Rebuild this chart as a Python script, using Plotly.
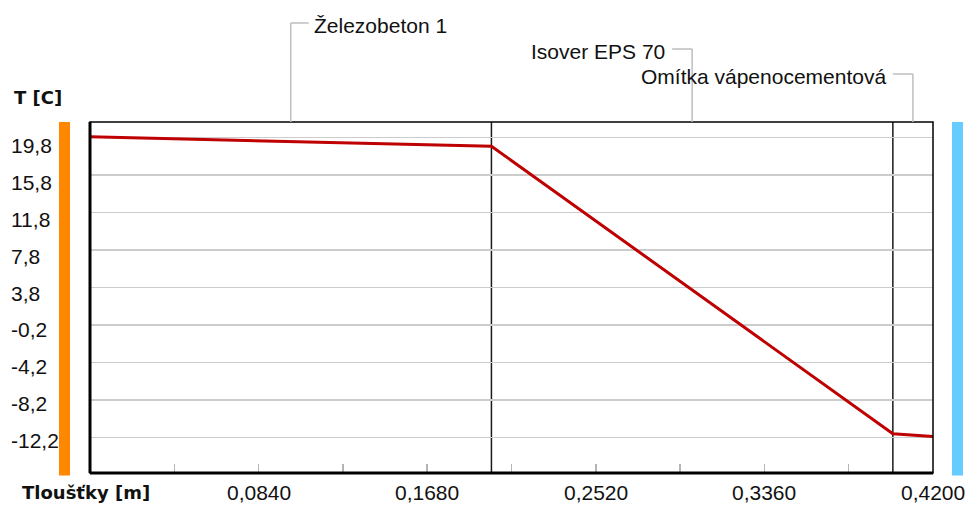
import plotly.graph_objects as go

# ---- data ----
layer_names = ["Železobeton 1", "Isover EPS 70", "Omítka vápenocementová"]
layer_bounds = [0.0, 0.2, 0.4, 0.42]          # thickness positions [m]
temps = [19.9, 18.9, -11.8, -12.1]            # temperature at the interfaces [C]
y_ticks = [19.8, 15.8, 11.8, 7.8, 3.8, -0.2, -4.2, -8.2, -12.2]
y_tick_text = ["19,8", "15,8", "11,8", "7,8", "3,8", "-0,2", "-4,2", "-8,2", "-12,2"]
x_ticks = [0.042, 0.084, 0.126, 0.168, 0.210, 0.252, 0.294, 0.336, 0.378]
x_label_vals = [0.084, 0.168, 0.252, 0.336, 0.42]
x_label_text = ["0,0840", "0,1680", "0,2520", "0,3360", "0,4200"]

# ---- layout constants ----
W, H = 968, 508
ML, MR, MT, MB = 90, 35, 122, 35
PW = W - ML - MR
PH = H - MT - MB
TXT = dict(family="Liberation Sans, Arial, sans-serif", size=21, color="#111111")
BOLD = dict(family="DejaVu Sans, sans-serif", size=18, color="#111111")

fig = go.Figure()
fig.add_trace(go.Scatter(x=layer_bounds, y=temps, mode="lines",
                         line=dict(color="#BE0000", width=3), hoverinfo="skip",
                         showlegend=False))

fig.update_layout(
    width=W, height=H, margin=dict(l=ML, r=MR, t=MT, b=MB),
    paper_bgcolor="white", plot_bgcolor="white", showlegend=False,
    xaxis=dict(range=[0, 0.42], showgrid=False, zeroline=False, showline=False,
               tickvals=x_ticks, ticks="inside", ticklen=9, tickwidth=1.5,
               tickcolor="#B4B4B4", showticklabels=False, fixedrange=True),
    yaxis=dict(range=[-15.99, 21.48], tickvals=y_ticks, showgrid=True,
               gridcolor="#CCCCCC", gridwidth=1.5, zeroline=False, showline=False,
               showticklabels=False, ticks="", fixedrange=True),
)

shapes = []
# layer boundaries
for b in layer_bounds[1:-1]:
    shapes.append(dict(type="line", xref="x", yref="paper", x0=b, x1=b, y0=0, y1=1,
                       line=dict(color="#1A1A1A", width=1.5), layer="below"))
# frame
shapes.append(dict(type="rect", xref="paper", yref="paper", x0=0, x1=1, y0=0, y1=1,
                   line=dict(color="black", width=1.5), layer="above"))
shapes.append(dict(type="line", xref="paper", yref="paper", x0=0, x1=0, y0=0, y1=1,
                   line=dict(color="black", width=3), layer="above"))
shapes.append(dict(type="line", xref="paper", yref="paper", x0=0, x1=1, y0=0, y1=0,
                   line=dict(color="black", width=3), layer="above"))
# side colour bars (interior / exterior)
shapes.append(dict(type="rect", xref="paper", yref="paper", xsizemode="pixel", xanchor=0,
                   x0=-31, x1=-20, y0=-2.5 / PH, y1=1, line=dict(width=0),
                   fillcolor="#FF8800"))
shapes.append(dict(type="rect", xref="paper", yref="paper", xsizemode="pixel", xanchor=1,
                   x0=19, x1=30, y0=-2.5 / PH, y1=1, line=dict(width=0),
                   fillcolor="#66CCFF"))

annotations = []
# layer name leaders
label_style = [  # (rise px, horizontal dx px, side)
    (99, 18, "right"),
    (73, -20, "left"),
    (48, -20, "left"),
]
for i, name in enumerate(layer_names):
    cx = (layer_bounds[i] + layer_bounds[i + 1]) / 2
    rise, dx, side = label_style[i]
    lc = dict(color="#BEBEBE", width=1.5)
    shapes.append(dict(type="line", xref="x", x0=cx, x1=cx, yref="paper",
                       ysizemode="pixel", yanchor=1, y0=0, y1=rise, line=lc))
    shapes.append(dict(type="line", xref="x", xsizemode="pixel", xanchor=cx, x0=0, x1=dx,
                       yref="paper", ysizemode="pixel", yanchor=1, y0=rise, y1=rise, line=lc))
    annotations.append(dict(x=cx, xref="x", y=1, yref="paper", text=name, showarrow=False,
                            xanchor="left" if side == "right" else "right",
                            xshift=dx + (3 if dx > 0 else -5), yanchor="middle",
                            yshift=rise - 2, font=TXT))

# y tick labels (left aligned)
n = len(y_ticks)
for i, (v, t) in enumerate(zip(y_ticks, y_tick_text)):
    annotations.append(dict(x=(9 - ML) / PW, xref="paper", y=v, yref="y", text=t,
                            showarrow=False, xanchor="left", yanchor="middle",
                            yshift=-8 + 5 * i / (n - 1), font=TXT))
# x tick labels
for v, t in zip(x_label_vals, x_label_text):
    annotations.append(dict(x=v, xref="x", y=0, yref="paper", text=t, showarrow=False,
                            xanchor="center", yanchor="middle", yshift=-19, font=TXT))
# axis titles
annotations.append(dict(x=(12 - ML) / PW, xref="paper", y=1, yref="paper", text="<b>T [C]</b>",
                        showarrow=False, xanchor="left", yanchor="middle", yshift=25, font=BOLD))
annotations.append(dict(x=(20 - ML) / PW, xref="paper", y=0, yref="paper",
                        text="<b>Tloušťky [m]</b>", showarrow=False, xanchor="left",
                        yanchor="middle", yshift=-19, font=BOLD))

fig.update_layout(shapes=shapes, annotations=annotations)
fig.write_html("out.html",
               config={"displayModeBar": False, "staticPlot": True},
               post_script="document.body.style.margin='0px';"
                           "document.body.style.overflow='hidden';")
